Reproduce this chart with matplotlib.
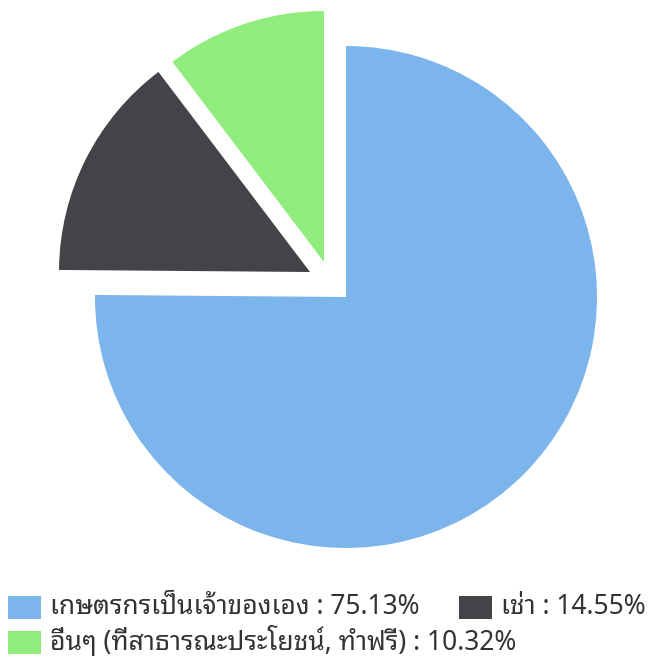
import matplotlib
matplotlib.use("Agg")
from matplotlib import pyplot as plt
from matplotlib.patches import Rectangle

labels = ["เกษตรกรเป็นเจ้าของเอง", "เช่า", "อื่นๆ (ที่สาธารณะประโยชน์, ทำฟรี)"]
values = [75.13, 14.55, 10.32]
colors = ["#7cb5ec", "#434348", "#90ed7d"]

# 扇形拉出的偏移（像素）
sliced = [(0, 0), (-36, 25), (-22, 35)]

W, H = 652, 657
fig = plt.figure(figsize=(W / 100, H / 100), dpi=100)

cx, cy, R = 346, 297, 251
half = 300
ax = fig.add_axes([(cx - half) / W, (H - cy - half) / H, 2 * half / W, 2 * half / H])
wedges, _ = ax.pie(values, colors=colors, startangle=90, counterclock=False,
                   radius=1, wedgeprops=dict(linewidth=0))
for w, (dx, dy) in zip(wedges, sliced):
    w.set_center((dx / R, dy / R))
ax.set_xlim(-half / R, half / R)
ax.set_ylim(-half / R, half / R)
ax.axis("off")

fam = ["Noto Sans Thai Looped", "Noto Sans Thai", "DejaVu Sans"]
# 图例
items = [(8, 607, 0), (459, 607, 1), (8, 642, 2)]
for x, y, i in items:
    fig.add_artist(Rectangle((x / W, (H - y - 11.5) / H), 33 / W, 23 / H,
                             transform=fig.transFigure, color=colors[i], lw=0))
    fig.text((x + 42) / W, (H - y) / H, f"{labels[i]} : {values[i]:.2f}%",
             fontsize=19, color="#333333", va="center", family=fam)

plt.savefig("out.png", dpi=100)
